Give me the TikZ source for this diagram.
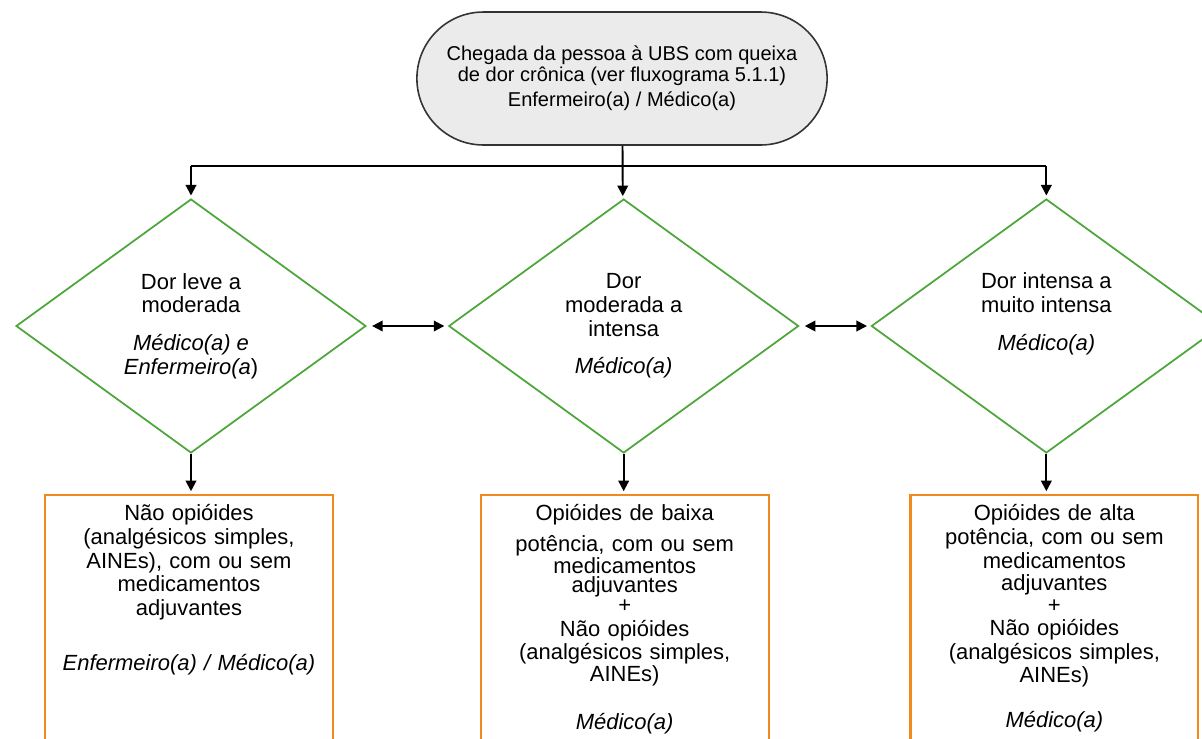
\documentclass[tikz,border=0pt]{standalone}
\usepackage{fontspec}
\setmainfont{Liberation Sans}
\usetikzlibrary{shapes,arrows.meta,calc,positioning}

\definecolor{flowgreen}{RGB}{77,166,58}
\definecolor{floworange}{RGB}{240,138,28}
\definecolor{flowgray}{RGB}{235,235,235}

\begin{document}
\begin{tikzpicture}[x=0.02cm, y=-0.02cm,
arrival/.style={rounded rectangle, draw=black!80, fill=flowgray, line width=0.9pt, minimum width=8.44cm, minimum height=2.66cm, align=center, font=\fontsize{11.4}{12}\selectfont},
pain/.style={diamond, draw=flowgreen, line width=1pt, minimum width=7cm, minimum height=5.08cm, inner sep=0pt, align=center, font=\fontsize{12.5}{13.4}\selectfont},
drug/.style={rectangle, draw=floworange, line width=1.3pt, text width=5.76cm, inner sep=0pt, align=center, text height=0.52cm, text depth=6cm, font=\fontsize{12.5}{13.4}\selectfont},
link/.style={line width=1.1pt, -{Triangle[length=6pt,width=6pt]}, shorten >=1.5pt},
twoway/.style={line width=1.1pt, {Triangle[length=6pt,width=6pt]}-{Triangle[length=6pt,width=6pt]}, shorten <=3pt, shorten >=2pt}]

    \clip (0,0) rectangle (1202,738);

    \node [arrival] (arr) at (622,78.5) {Chegada da pessoa à UBS com queixa\\de dor crônica (ver fluxograma 5.1.1)\\[2.3pt]Enfermeiro(a) / Médico(a)};

    \node [pain] (d1) at (191,326) {Dor leve a\\moderada\\[8pt]\textit{Médico(a) e}\\\textit{Enfermeiro(a})};
    \node [pain, right = 1.62cm of d1] (d2) {Dor\\moderada a\\intensa\\[8pt]\textit{Médico(a)}};
    \node [pain, right = 1.42cm of d2] (d3) {Dor intensa a\\muito intensa\\[8pt]\textit{Médico(a)}\\[3pt]\mbox{}};

    \node [drug, below = 0.8cm of d1, xshift=-0.04cm] (b1) {Não opióides\\(analgésicos simples,\\AINEs), com ou sem\\medicamentos\\adjuvantes\\[17.9pt]\textit{Enfermeiro(a) / Médico(a)}};
    \node [drug, below = 0.8cm of d2, xshift=0.02cm] (b2) {Opióides de baixa\\[4pt]potência, com ou sem\\[-0.9pt]medicamentos\\[-2.4pt]adjuvantes\\[-2.4pt]+\\[0.4pt]Não opióides\\(analgésicos simples,\\[-0.9pt]AINEs)\\[13.4pt]\textit{Médico(a)}};
    \node [drug, below = 0.8cm of d3, xshift=0.16cm] (b3) {Opióides de alta\\potência, com ou sem\\medicamentos\\[-0.6pt]adjuvantes\\[-1pt]+\\Não opióides\\(analgésicos simples,\\AINEs)\\[12.2pt]\textit{Médico(a)}};

    \coordinate [below = 0.4cm of arr] (bar);

    \draw [link] (arr) -- (d2);
    \draw [line width=1.1pt] (bar -| d1.north) -- (bar -| d3.north);
    \draw [link] (bar -| d1.north) -- (d1.north);
    \draw [link] (bar -| d3.north) -- (d3.north);

    \draw [twoway] (d1.east) -- (d2.west);
    \draw [twoway] (d2.east) -- (d3.west);

    \draw [link] (d1.south) -- (d1.south |- b1.north);
    \draw [link] (d2.south) -- (d2.south |- b2.north);
    \draw [link] (d3.south) -- (d3.south |- b3.north);
\end{tikzpicture}
\end{document}
